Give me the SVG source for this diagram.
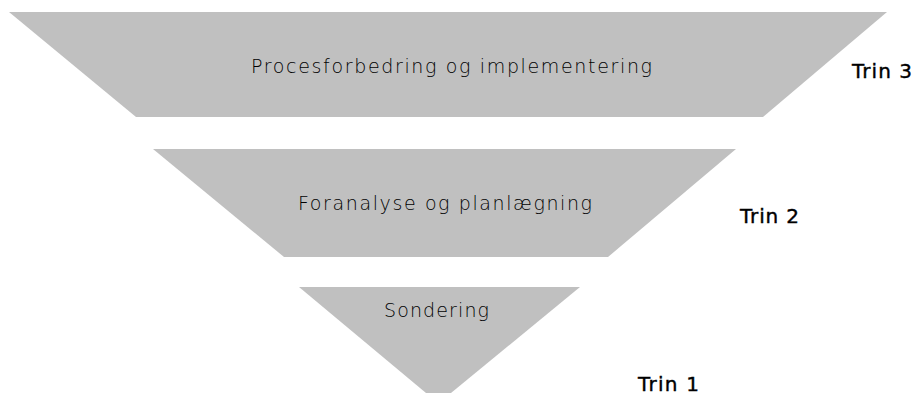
<svg xmlns="http://www.w3.org/2000/svg" width="917" height="395" viewBox="0 0 917 395">
<style>
.stage{fill:#C0C0C0;stroke:none}
.lbl{font-family:"DejaVu Sans","Verdana",sans-serif;font-size:19px;fill:#000;font-weight:200}
.trin{font-family:"DejaVu Sans","Verdana",sans-serif;font-size:20px;fill:#000;stroke:#000;stroke-width:0.4}
</style>
<rect width="917" height="395" fill="#FFFFFF"/>
<g id="stage3">
<polygon class="stage" points="9,12 887,12 763,117 136,117"/>
<text class="lbl" x="251" y="73" textLength="401" lengthAdjust="spacing">Procesforbedring og implementering</text>
</g>
<g id="stage2">
<polygon class="stage" points="153,149 736,149 608,257 284,257"/>
<text class="lbl" x="298" y="210" textLength="294" lengthAdjust="spacing">Foranalyse og planlægning</text>
</g>
<g id="stage1">
<polygon class="stage" points="299,287 580,287 451,393 426,393"/>
<text class="lbl" x="384" y="317" textLength="105" lengthAdjust="spacing">Sondering</text>
</g>
<g id="labels">
<text class="trin" x="852" y="78" textLength="60" lengthAdjust="spacing">Trin 3</text>
<text class="trin" x="740" y="223" textLength="59" lengthAdjust="spacing">Trin 2</text>
<text class="trin" x="638" y="391" textLength="61" lengthAdjust="spacing">Trin 1</text>
</g>
<g id="connectors"></g>
</svg>
